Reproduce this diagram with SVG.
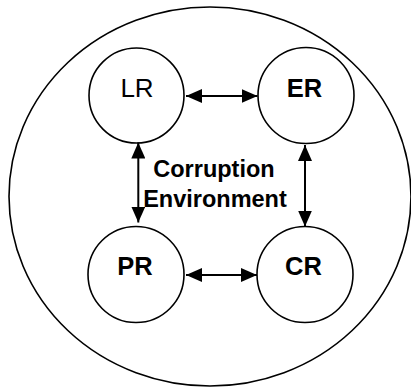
<svg xmlns="http://www.w3.org/2000/svg" width="411" height="388" viewBox="0 0 411 388">
<style>
.c{fill:none;stroke:#000;stroke-width:1.6}
.t{font-family:"Liberation Sans",Arial,sans-serif;fill:#000;text-anchor:middle}
.b{font-weight:bold}
.a{stroke:#000;stroke-width:2;fill:none;marker-start:url(#ah);marker-end:url(#ah)}
</style>
<defs>
<marker id="ah" markerUnits="userSpaceOnUse" markerWidth="16" markerHeight="14" refX="16" refY="7" orient="auto-start-reverse">
<path d="M0,0 L16,7 L0,14 z" fill="#000"/>
</marker>
</defs>
<g id="environment">
<ellipse class="c" cx="210" cy="196.5" rx="201" ry="189.5"/>
<text class="t b" x="214" y="177" font-size="23.5">Corruption</text>
<text class="t b" x="215" y="206.5" font-size="23.5">Environment</text>
</g>
<g id="LR">
<circle class="c" cx="136.5" cy="95.5" r="47.5"/>
<text class="t" x="137" y="97" font-size="26">LR</text>
</g>
<g id="ER">
<circle class="c" cx="306" cy="95.5" r="48"/>
<text class="t b" x="304.5" y="96.5" font-size="25.5">ER</text>
</g>
<g id="PR">
<circle class="c" cx="136" cy="274.5" r="48"/>
<text class="t b" x="135" y="275" font-size="25.5">PR</text>
</g>
<g id="CR">
<circle class="c" cx="305" cy="274.5" r="48"/>
<text class="t b" x="303.5" y="275" font-size="25.5">CR</text>
</g>
<g id="connectors">
<line class="a" x1="186" y1="96" x2="257.5" y2="96"/>
<line class="a" x1="186" y1="275" x2="257" y2="275"/>
<line class="a" x1="138.3" y1="142.5" x2="138.3" y2="222.5"/>
<line class="a" x1="305" y1="145" x2="305" y2="226.5"/>
</g>
</svg>
